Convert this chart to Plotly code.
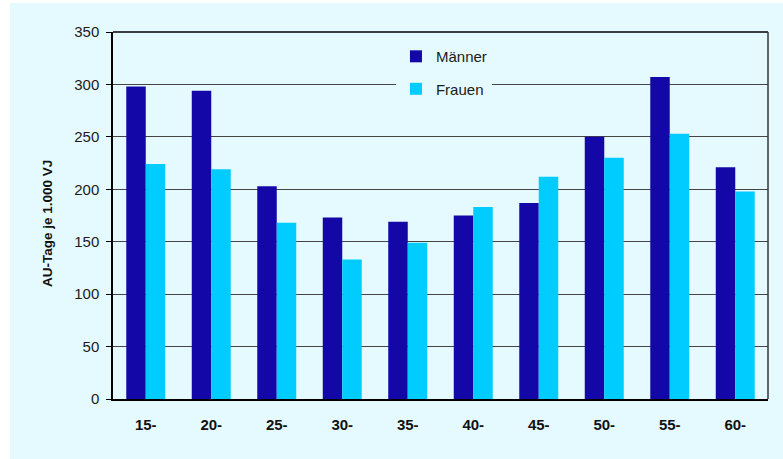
import plotly.graph_objects as go

# Altersgruppen und AU-Tage je 1.000 Versicherungsjahre
age_groups = ["15-", "20-", "25-", "30-", "35-", "40-", "45-", "50-", "55-", "60-"]
maenner = [298, 294, 203, 173, 169, 175, 187, 250, 307, 221]
frauen = [224, 219, 168, 133, 149, 183, 212, 230, 253, 198]
y_ticks = [0, 50, 100, 150, 200, 250, 300, 350]
y_title = "AU-Tage je 1.000 VJ"

BG = "#E5FAFF"
DARK_BLUE = "#1407A8"
CYAN = "#00CCFF"
FONT = "Liberation Sans, Arial, sans-serif"

fig = go.Figure()
fig.add_trace(go.Bar(x=age_groups, y=maenner, name="Männer",
                     marker=dict(color=DARK_BLUE, line=dict(width=0)),
                     legendgroup="m"))
fig.add_trace(go.Bar(x=age_groups, y=frauen, name="Frauen",
                     marker=dict(color=CYAN, line=dict(width=0)),
                     legendgroup="f"))

W, H = 783, 459
L, R, T, B = 113, 15, 32, 60
PW, PH = W - L - R, H - T - B

fig.update_layout(
    width=W, height=H,
    margin=dict(l=L, r=R, t=T, b=B, pad=0),
    paper_bgcolor=BG,
    plot_bgcolor=BG,
    barmode="group",
    bargap=0.405,
    bargroupgap=0,
    font=dict(family=FONT, size=15, color="#1a1a1a"),
    showlegend=True,
    legend=dict(
        x=0.432, y=0.978, xanchor="left", yanchor="top",
        bgcolor=BG, borderwidth=0,
        font=dict(size=15, color="#1a1a1a"),
        tracegroupgap=10,
        traceorder="grouped",
        itemclick=False, itemdoubleclick=False,
    ),
    xaxis=dict(
        showline=True, linecolor="#000000", linewidth=1.5, mirror=False,
        ticks="", showgrid=False,
        tickfont=dict(size=15, family=FONT, color="#111111", weight="bold"),
        ticklabelstandoff=11,
    ),
    yaxis=dict(
        range=[0, 350], tickvals=y_ticks,
        showline=True, linecolor="#000000", linewidth=1.5,
        ticks="outside", ticklen=5, tickcolor="#000000", tickwidth=1,
        showgrid=True, gridcolor="#454545", gridwidth=1,
        zeroline=False,
        tickfont=dict(size=15, family=FONT, color="#1a1a1a"),
        ticklabelstandoff=4,
    ),
    annotations=[
        # y-axis title, set slightly below the vertical centre of the plot
        dict(text=y_title, textangle=-90, showarrow=False,
             xref="paper", yref="paper",
             x=(48 - L) / PW, y=(H - B - 224) / PH,
             xanchor="center", yanchor="middle",
             font=dict(size=13.5, family=FONT, color="#111111", weight="bold")),
    ],
    shapes=[
        # white strips at the left and top edge of the page
        dict(type="rect", xref="paper", yref="paper",
             x0=-L / PW, x1=(10 - L) / PW,
             y0=-B / PH, y1=(H - B) / PH,
             fillcolor="white", line=dict(width=0), layer="below"),
        dict(type="rect", xref="paper", yref="paper",
             x0=-L / PW, x1=(W - L) / PW,
             y0=(H - B - 3) / PH, y1=(H - B) / PH,
             fillcolor="white", line=dict(width=0), layer="below"),
        # top and right frame of the plot area
        dict(type="line", xref="paper", yref="paper", x0=0, x1=1, y0=1, y1=1,
             line=dict(color="#000000", width=1.5)),
        dict(type="line", xref="paper", yref="paper", x0=1, x1=1, y0=0, y1=1,
             line=dict(color="#333333", width=1.5)),
    ],
)

fig.write_html("out.html")
